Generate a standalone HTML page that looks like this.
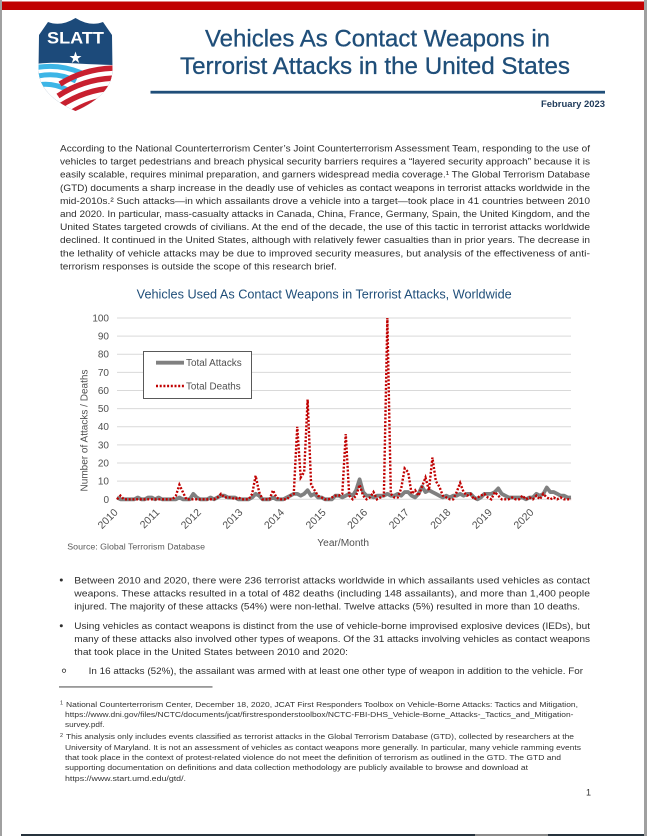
<!DOCTYPE html>
<html><head><meta charset="utf-8"><style>
html,body{margin:0;padding:0;background:#fff;}
svg{display:block;}
text{font-family:"Liberation Sans",sans-serif;}
.b{font-size:9.5px;fill:#2e2e2e;}
.f{font-size:7.6px;fill:#333;}
.ax{font-size:10px;fill:#505050;}
</style></head><body>
<svg width="647" height="836" viewBox="0 0 647 836" xmlns="http://www.w3.org/2000/svg">
<defs>
<clipPath id="sh"><path d="M39,35 L48,22 Q61,27 75.5,18 Q90,27 103,22 L112,35 L112.5,70 Q112,95 75.5,111 Q39,95 38.5,70 Z"/></clipPath>
</defs>
<rect x="0" y="0" width="647" height="836" fill="#fff"/>
<rect x="0" y="0" width="2" height="836" fill="#a0a0a0"/>
<rect x="644" y="0" width="3" height="836" fill="#a0a0a0"/>
<rect x="2" y="1.5" width="642" height="8.5" fill="#c00000"/>
<rect x="21" y="834" width="454" height="2" fill="#26323c"/>
<rect x="475" y="834" width="73" height="2" fill="#8a8a8a"/>
<rect x="548" y="834" width="96" height="2" fill="#26323c"/>

<!-- Logo -->
<g clip-path="url(#sh)">
<rect x="30" y="10" width="90" height="110" fill="#1c4a7a"/>
<path d="M30,65 C55,60 80,65 120,65 L120,120 L30,120 Z" fill="#fff"/>
<path d="M34,68 Q58,63 82,73" stroke="#3db5e6" stroke-width="5" fill="none"/>
<path d="M34,77 Q56,71 76,81" stroke="#3db5e6" stroke-width="5" fill="none"/>
<path d="M34,86 Q50,81 68,90" stroke="#3db5e6" stroke-width="5" fill="none"/>
<path d="M60,84 Q85,68 118,68" stroke="#c8202f" stroke-width="5.5" fill="none"/>
<path d="M58,96 Q85,78 118,78" stroke="#c8202f" stroke-width="5.5" fill="none"/>
<path d="M60,106 Q88,88 118,88" stroke="#c8202f" stroke-width="5.5" fill="none"/>
<path d="M66,116 Q92,98 118,99" stroke="#c8202f" stroke-width="5.5" fill="none"/>
</g>
<text x="47" y="43.3" font-size="17" font-weight="bold" fill="#fff" textLength="57" lengthAdjust="spacingAndGlyphs">SLATT</text>
<polygon points="75.5,51.5 77,56 81.5,56 77.8,58.7 79.2,63 75.5,60.3 71.8,63 73.2,58.7 69.5,56 74,56" fill="#fff"/>

<!-- Title -->
<text x="205" y="46.7" font-size="24" fill="#1f4e79" stroke="#1f4e79" stroke-width="0.3" textLength="345" lengthAdjust="spacingAndGlyphs">Vehicles As Contact Weapons in</text>
<text x="180" y="74" font-size="24" fill="#1f4e79" stroke="#1f4e79" stroke-width="0.3" textLength="390" lengthAdjust="spacingAndGlyphs">Terrorist Attacks in the United States</text>
<rect x="150.5" y="90.8" width="454.5" height="2.8" fill="#1f4e79"/>
<text x="605" y="107" font-size="9" font-weight="bold" fill="#1e3a5a" text-anchor="end" textLength="64" lengthAdjust="spacingAndGlyphs">February 2023</text>

<!-- Paragraph -->
<g class="b">
<text x="60" y="151.5" textLength="530" lengthAdjust="spacingAndGlyphs">According to the National Counterterrorism Center’s Joint Counterterrorism Assessment Team, responding to the use of</text>
<text x="60" y="164.6" textLength="530" lengthAdjust="spacingAndGlyphs">vehicles to target pedestrians and breach physical security barriers requires a “layered security approach” because it is</text>
<text x="60" y="177.7" textLength="530" lengthAdjust="spacingAndGlyphs">easily scalable, requires minimal preparation, and garners widespread media coverage.¹ The Global Terrorism Database</text>
<text x="60" y="190.8" textLength="530" lengthAdjust="spacingAndGlyphs">(GTD) documents a sharp increase in the deadly use of vehicles as contact weapons in terrorist attacks worldwide in the</text>
<text x="60" y="203.9" textLength="530" lengthAdjust="spacingAndGlyphs">mid-2010s.² Such attacks—in which assailants drove a vehicle into a target—took place in 41 countries between 2010</text>
<text x="60" y="217" textLength="530" lengthAdjust="spacingAndGlyphs">and 2020. In particular, mass-casualty attacks in Canada, China, France, Germany, Spain, the United Kingdom, and the</text>
<text x="60" y="230.1" textLength="530" lengthAdjust="spacingAndGlyphs">United States targeted crowds of civilians. At the end of the decade, the use of this tactic in terrorist attacks worldwide</text>
<text x="60" y="243.2" textLength="530" lengthAdjust="spacingAndGlyphs">declined. It continued in the United States, although with relatively fewer casualties than in prior years. The decrease in</text>
<text x="60" y="256.3" textLength="530" lengthAdjust="spacingAndGlyphs">the lethality of vehicle attacks may be due to improved security measures, but analysis of the effectiveness of anti-</text>
<text x="60" y="269.4" textLength="276.7" lengthAdjust="spacingAndGlyphs">terrorism responses is outside the scope of this research brief.</text>
</g>

<!-- Chart -->
<text x="136.7" y="298.3" font-size="12.5" fill="#1f4e79" textLength="375" lengthAdjust="spacingAndGlyphs">Vehicles Used As Contact Weapons in Terrorist Attacks, Worldwide</text>
<g stroke="#d9d9d9" stroke-width="1">
<line x1="117" y1="318" x2="571" y2="318"/>
<line x1="117" y1="336.1" x2="571" y2="336.1"/>
<line x1="117" y1="354.2" x2="571" y2="354.2"/>
<line x1="117" y1="372.4" x2="571" y2="372.4"/>
<line x1="117" y1="390.5" x2="571" y2="390.5"/>
<line x1="117" y1="408.6" x2="571" y2="408.6"/>
<line x1="117" y1="426.7" x2="571" y2="426.7"/>
<line x1="117" y1="444.9" x2="571" y2="444.9"/>
<line x1="117" y1="463" x2="571" y2="463"/>
<line x1="117" y1="481.1" x2="571" y2="481.1"/>
<line x1="117" y1="499.3" x2="571" y2="499.3"/>
</g>
<g class="ax" text-anchor="end">
<text x="109" y="321.5">100</text>
<text x="109" y="339.6">90</text>
<text x="109" y="357.7">80</text>
<text x="109" y="375.9">70</text>
<text x="109" y="394">60</text>
<text x="109" y="412.1">50</text>
<text x="109" y="430.2">40</text>
<text x="109" y="448.4">30</text>
<text x="109" y="466.5">20</text>
<text x="109" y="484.6">10</text>
<text x="109" y="502.8">0</text>
</g>
<text class="ax" transform="translate(87.5 430.5) rotate(-90)" text-anchor="middle" textLength="122" lengthAdjust="spacingAndGlyphs">Number of Attacks / Deaths</text>
<g class="ax" text-anchor="end" style="font-size:10.5px">
<text transform="translate(118.5 513) rotate(-45)">2010</text>
<text transform="translate(160.1 513) rotate(-45)">2011</text>
<text transform="translate(201.7 513) rotate(-45)">2012</text>
<text transform="translate(243.3 513) rotate(-45)">2013</text>
<text transform="translate(284.9 513) rotate(-45)">2014</text>
<text transform="translate(326.5 513) rotate(-45)">2015</text>
<text transform="translate(368 513) rotate(-45)">2016</text>
<text transform="translate(409.6 513) rotate(-45)">2017</text>
<text transform="translate(451.2 513) rotate(-45)">2018</text>
<text transform="translate(492.8 513) rotate(-45)">2019</text>
<text transform="translate(534.4 513) rotate(-45)">2020</text>
</g>
<text class="ax" x="317.3" y="546" textLength="51.7" lengthAdjust="spacingAndGlyphs">Year/Month</text>
<text x="67.3" y="549.5" font-size="8" fill="#595959" textLength="137.7" lengthAdjust="spacingAndGlyphs">Source: Global Terrorism Database</text>

<g transform="translate(117 499.3) scale(3.466 -1.813)" fill="none">
<polyline vector-effect="non-scaling-stroke" stroke="#808080" stroke-width="3.8" stroke-linejoin="round" points="0,1 1,0 2,0 3,0 4,0 5,0 6,1 7,0 8,0 9,1 10,1 11,0 12,1 13,0 14,0 15,0 16,0 17,0 18,1 19,0 20,0 21,0 22,3 23,1 24,0 25,0 26,0 27,1 28,0 29,1 30,2 31,2 32,1 33,1 34,1 35,0 36,0 37,0 38,0 39,1 40,3 41,2 42,0 43,0 44,0 45,1 46,0 47,0 48,0 49,1 50,2 51,3 52,3 53,2 54,3 55,5 56,2 57,3 58,1 59,1 60,0 61,0 62,0 63,2 64,2 65,1 66,2 67,3 68,2 69,5 70,11 71,4 72,2 73,2 74,1 75,2 76,2 77,2 78,3 79,2 80,2 81,3 82,2 83,4 84,4 85,2 86,1 87,3 88,7 89,4 90,5 91,4 92,3 93,2 94,1 95,2 96,1 97,2 98,2 99,3 100,2 101,3 102,3 103,1 104,0 105,1 106,3 107,3 108,3 109,4 110,6 111,3 112,2 113,1 114,1 115,1 116,1 117,1 118,0 119,1 120,1 121,3 122,2 123,3 124,6.5 125,4 126,4 127,3 128,2 129,2 130,1 131,1"/>
<polyline vector-effect="non-scaling-stroke" stroke="#c00000" stroke-width="2.4" stroke-dasharray="2 1.7" points="0,0 1,2 2,0 3,0 4,0 5,0 6,0 7,0 8,0 9,0 10,0 11,0 12,0 13,0 14,0 15,0 16,0 17,2 18,8 19,4 20,0 21,0 22,0 23,0 24,0 25,0 26,0 27,0 28,0 29,1 30,3 31,1 32,1 33,1 34,0 35,1 36,0 37,0 38,0 39,3 40,13 41,4 42,0 43,0 44,0 45,5 46,1 47,0 48,0 49,0 50,2 51,3 52,40 53,12 54,15 55,55 56,8 57,5 58,2 59,1 60,0 61,0 62,1 63,2 64,2 65,3 66,36 67,2 68,0 69,2 70,8 71,2 72,0 73,1 74,4 75,0 76,1 77,2 78,100 79,3 80,1 81,1 82,6 83,17 84,15 85,3 86,5 87,2 88,7 89,12 90,5 91,23 92,10 93,7 94,2 95,1 96,0 97,0 98,4 99,9 100,4 101,2 102,3 103,0 104,1 105,2 106,3 107,1 108,0 109,4 110,2 111,0 112,0 113,0 114,1 115,0 116,0 117,2 118,0 119,1 120,0 121,2 122,0 123,3 124,1 125,0 126,1 127,0 128,1 129,0 130,0 131,0"/>
</g>

<!-- Legend -->
<rect x="143.5" y="351.5" width="108" height="47" fill="#fff" stroke="#595959" stroke-width="1"/>
<line x1="156" y1="362.7" x2="184" y2="362.7" stroke="#808080" stroke-width="3.8"/>
<line x1="156" y1="386" x2="184" y2="386" stroke="#c00000" stroke-width="2.4" stroke-dasharray="2 1.7"/>
<text class="ax" x="186" y="366.2" textLength="55.7" lengthAdjust="spacingAndGlyphs">Total Attacks</text>
<text class="ax" x="186" y="389.5" textLength="54.7" lengthAdjust="spacingAndGlyphs">Total Deaths</text>

<!-- Bullets -->
<circle cx="61.3" cy="580" r="1.5" fill="#2e2e2e"/>
<circle cx="61.3" cy="625.7" r="1.5" fill="#2e2e2e"/>
<circle cx="64" cy="670.7" r="1.7" fill="none" stroke="#2e2e2e" stroke-width="0.8"/>
<g class="b">
<text x="74.3" y="583.3" textLength="515.7" lengthAdjust="spacingAndGlyphs">Between 2010 and 2020, there were 236 terrorist attacks worldwide in which assailants used vehicles as contact</text>
<text x="74.3" y="596.5" textLength="515.7" lengthAdjust="spacingAndGlyphs">weapons. These attacks resulted in a total of 482 deaths (including 148 assailants), and more than 1,400 people</text>
<text x="74.3" y="609.5" textLength="505.7" lengthAdjust="spacingAndGlyphs">injured. The majority of these attacks (54%) were non-lethal. Twelve attacks (5%) resulted in more than 10 deaths.</text>
<text x="74.3" y="629" textLength="515.7" lengthAdjust="spacingAndGlyphs">Using vehicles as contact weapons is distinct from the use of vehicle-borne improvised explosive devices (IEDs), but</text>
<text x="74.3" y="642" textLength="515.7" lengthAdjust="spacingAndGlyphs">many of these attacks also involved other types of weapons. Of the 31 attacks involving vehicles as contact weapons</text>
<text x="74.3" y="655" textLength="273.7" lengthAdjust="spacingAndGlyphs">that took place in the United States between 2010 and 2020:</text>
<text x="88.7" y="674" textLength="494.3" lengthAdjust="spacingAndGlyphs">In 16 attacks (52%), the assailant was armed with at least one other type of weapon in addition to the vehicle. For</text>
</g>

<rect x="59" y="686.5" width="153.5" height="0.9" fill="#333"/>

<!-- Footnotes -->
<g class="f">
<text x="60" y="704.5" font-size="5.5">1</text>
<text x="66" y="706.8" textLength="512" lengthAdjust="spacingAndGlyphs">National Counterterrorism Center, December 18, 2020, JCAT First Responders Toolbox on Vehicle-Borne Attacks: Tactics and Mitigation,</text>
<text x="65" y="716.8" textLength="508.5" lengthAdjust="spacingAndGlyphs">https://www.dni.gov/files/NCTC/documents/jcat/firstresponderstoolbox/NCTC-FBI-DHS_Vehicle-Borne_Attacks-_Tactics_and_Mitigation-</text>
<text x="65" y="726.8" textLength="39.5" lengthAdjust="spacingAndGlyphs">survey.pdf.</text>
<text x="60" y="737" font-size="5.5">2</text>
<text x="66" y="739.2" textLength="508" lengthAdjust="spacingAndGlyphs">This analysis only includes events classified as terrorist attacks in the Global Terrorism Database (GTD), collected by researchers at the</text>
<text x="65" y="749.8" textLength="516" lengthAdjust="spacingAndGlyphs">University of Maryland. It is not an assessment of vehicles as contact weapons more generally. In particular, many vehicle ramming events</text>
<text x="65" y="759.8" textLength="496" lengthAdjust="spacingAndGlyphs">that took place in the context of protest-related violence do not meet the definition of terrorism as outlined in the GTD. The GTD and</text>
<text x="65" y="770.2" textLength="463" lengthAdjust="spacingAndGlyphs">supporting documentation on definitions and data collection methodology are publicly available to browse and download at</text>
<text x="65" y="781.2" textLength="121" lengthAdjust="spacingAndGlyphs">https://www.start.umd.edu/gtd/.</text>
</g>
<text x="591" y="795.5" font-size="9" fill="#333" text-anchor="end">1</text>
</svg>
</body></html>
